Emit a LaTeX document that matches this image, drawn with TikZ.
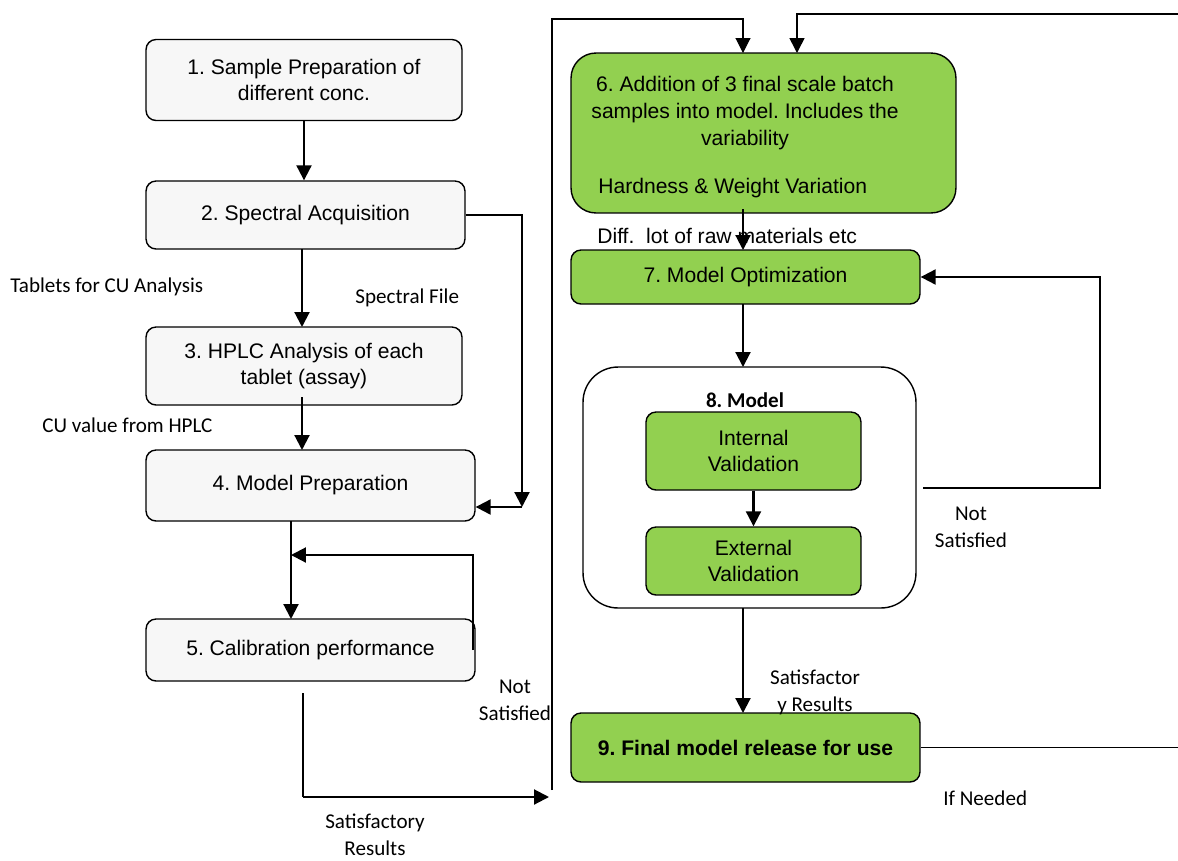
\documentclass[tikz,border=0pt]{standalone}
\usepackage{fontspec}
\setmainfont{Liberation Sans}
\newfontfamily\calibri{Carlito}
\usetikzlibrary{arrows.meta,positioning}
\definecolor{boxgray}{HTML}{F7F7F7}
\definecolor{boxgreen}{HTML}{92D050}
\frenchspacing
\begin{document}
\begin{tikzpicture}[x=0.02cm,y=-0.02cm,
        box/.style={draw,line width=0.8pt,rounded corners=0.2cm,fill=boxgray,align=center,inner sep=0pt,font=\fontsize{12}{15.3}\selectfont},
        gbox/.style={box,fill=boxgreen},
        lbl/.style={font=\calibri\fontsize{12}{15.3}\selectfont,align=center,inner sep=0pt},
        arr/.style={line width=1.2pt,-{Triangle[length=0.3cm,width=0.3cm]}},
        ln/.style={line width=0.6pt}]
        \useasboundingbox (0,0) rectangle (1178,860);
        \node[box,minimum width=6.32cm,minimum height=1.62cm] (b1) at (304,80) {1. Sample Preparation of\\different conc.};
        \node[box,minimum width=6.38cm,minimum height=1.36cm] (b2) at (305.5,215) {2. Spectral Acquisition};
        \node[box,minimum width=6.32cm,minimum height=1.56cm] (b3) at (304,366) {3. HPLC Analysis of each\\tablet (assay)};
        \node[box,minimum width=6.58cm,minimum height=1.42cm] (b4) at (310.5,485.5) {4. Model Preparation};
        \node[box,minimum width=6.58cm,minimum height=1.24cm] (b5) at (310.5,650) {5. Calibration performance};
        \node[gbox,rounded corners=0.5cm,minimum width=7.7cm,minimum height=3.2cm] (b6) at (763.5,133) {};
        \node[align=center,inner sep=0pt,font=\fontsize{12}{15.3}\selectfont] (b6t) at (745,113) {6. Addition of 3 final scale batch\\samples into model. Includes the\\variability};
        \node[anchor=west,inner sep=0pt,font=\fontsize{12}{15.3}\selectfont] (b6h) at (598,188) {Hardness \& Weight Variation};
        \node[anchor=west,inner sep=0pt,font=\fontsize{12}{15.3}\selectfont] (diff) at (597,236) {Diff.\ \ lot of raw materials etc};
        \node[gbox,minimum width=6.98cm,minimum height=1.08cm] (b7) at (745.5,277) {7. Model Optimization};
        \node[draw,line width=0.8pt,rounded corners=0.7cm,fill=white,minimum width=6.66cm,minimum height=4.82cm] (b8) at (749.5,487.5) {};
        \node[lbl,font=\calibri\bfseries\fontsize{12}{15.3}\selectfont] (b8t) at (745,400) {8. Model};
        \node[gbox,minimum width=4.3cm,minimum height=1.56cm] (bi) at (753.5,451) {Internal\\Validation};
        \node[gbox,minimum width=4.3cm,minimum height=1.36cm] (be) at (753.5,561) {External\\Validation};
        \node[gbox,minimum width=6.98cm,minimum height=1.38cm,font=\bfseries\fontsize{12}{15.3}\selectfont] (b9) at (745.5,747.5) {9. Final model release for use};
        \node[lbl,anchor=west] (tabl) at (10,287) {Tablets for CU Analysis};
        \node[lbl,anchor=west] (spf) at (355,298) {Spectral File};
        \node[lbl,anchor=west] (cuv) at (42,425) {CU value from HPLC};
        \node[lbl] (ns1) at (515,700) {Not\\Satisfied};
        \node[lbl] (sat1) at (375,835) {Satisfactory\\Results};
        \node[lbl] (ns2) at (971,527) {Not\\Satisfied};
        \node[lbl] (sat2) at (815,692) {Satisfactor\\y Results};
        \node[lbl,anchor=west] (ifn) at (943,798) {If Needed};
        \coordinate (sp) at (522,507);
        \coordinate (lp) at (473,650);
        \coordinate (sv) at (303,693);
        \coordinate (sh) at (549,797);
        \coordinate (vl) at (552,790);
        \coordinate (rt) at (1185,14);
        \coordinate (ns) at (923,488);
        \draw[arr] (b1.south) -- (b1.south |- b2.north);
        \draw[arr] (302,249) -- (302,327);
        \draw[arr] (302,397) -- (302,450);
        \draw[arr] (b2.east) -| (sp);
        \draw[arr] (sp) -- (sp -| b4.east);
        \draw[arr] (291,521) -- (291,619);
        \draw[arr] (lp) |- (291,555);
        \draw[ln] (sv) -- (sv |- sh);
        \draw[arr] (sv |- sh) -- (sh);
        \draw[ln,-{Triangle[length=0.3cm,width=0.3cm]}] (vl) -- (552,19) -| (743,53);
        \draw[ln,line width=0.9pt,-{Triangle[length=0.3cm,width=0.3cm]}] (b9.east) -- (b9.east -| rt) -- (rt) -| (797,53);
        \draw[arr] (743,209) -- (743,250);
        \draw[arr] (743,304) -- (743,367);
        \draw[arr] (bi.south) -- (be.north);
        \draw[arr] (ns) -- (1100,488) |- (b7.east);
        \draw[arr] (743,608) -- (743,713);
\end{tikzpicture}
\end{document}
